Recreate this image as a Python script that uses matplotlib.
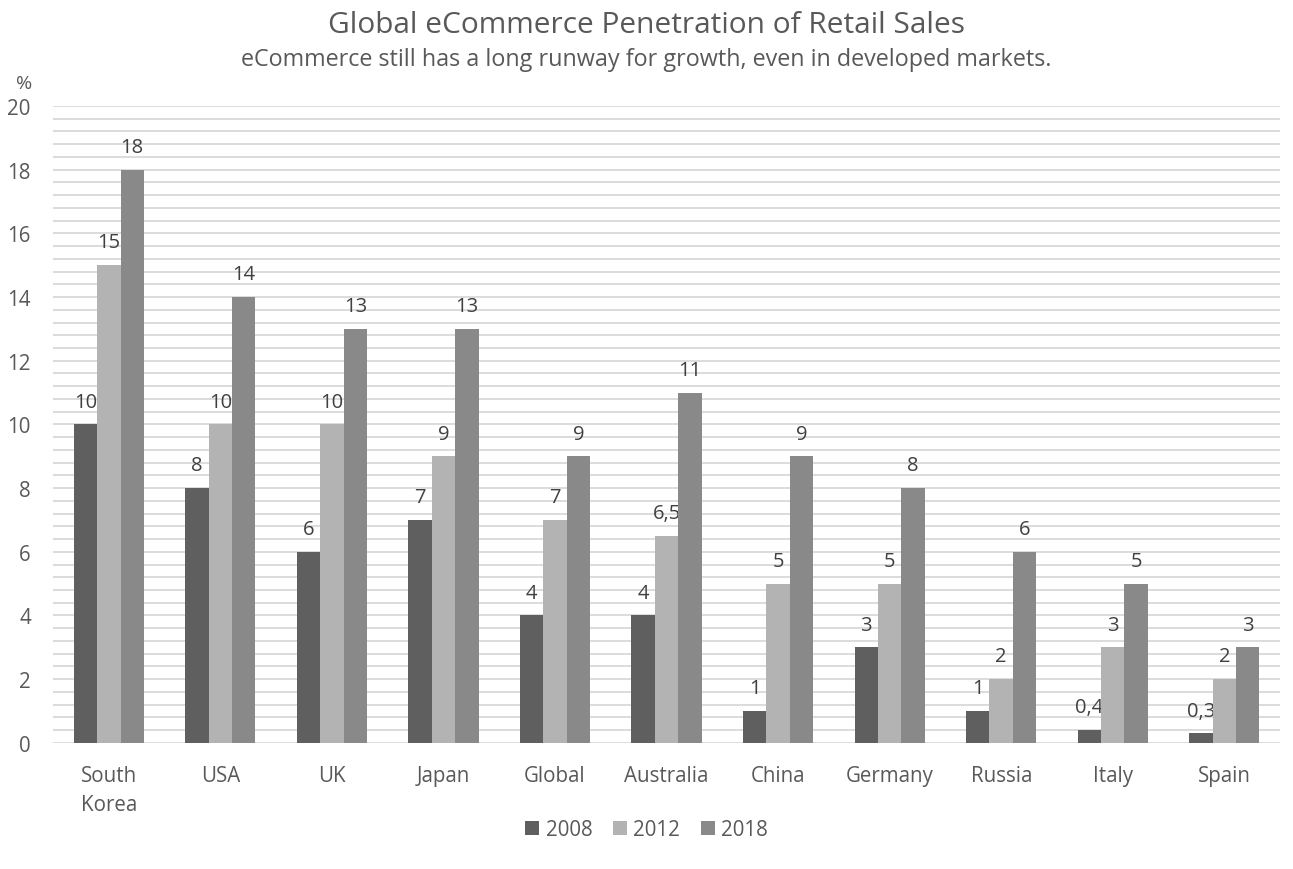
import numpy as np
import matplotlib.pyplot as plt
from matplotlib.ticker import MultipleLocator

plt.rcParams['font.family'] = ['Open Sans', 'DejaVu Sans']

countries = ["South\nKorea", "USA", "UK", "Japan", "Global", "Australia",
             "China", "Germany", "Russia", "Italy", "Spain"]
years = ["2008", "2012", "2018"]
vals_2008 = [10, 8, 6, 7, 4, 4, 1, 3, 1, 0.4, 0.3]
vals_2012 = [15, 10, 10, 9, 7, 6.5, 5, 5, 2, 3, 2]
vals_2018 = [18, 14, 13, 13, 9, 11, 9, 8, 6, 5, 3]
series = [vals_2008, vals_2012, vals_2018]
colors = ["#5f5f5f", "#b3b3b3", "#898989"]
text_color = "#595959"


def fmt(v):
    # comma decimal like the source
    return f"{v:g}".replace(".", ",")


fig = plt.figure(figsize=(12.93, 8.70), dpi=100)
ax = fig.add_axes([0.041, 0.145, 0.949, 0.732])

x = np.arange(len(countries))
width = 0.21
for i, (vals, col, yr) in enumerate(zip(series, colors, years)):
    pos = x + (i - 1) * width
    bars = ax.bar(pos, vals, width, color=col, label=yr, zorder=3)
    for b, v in zip(bars, vals):
        ax.text(b.get_x() + b.get_width() / 2, v + 0.4, fmt(v),
                ha="center", va="bottom", fontsize=14.5, color="#404040")

ax.set_xlim(-0.5, len(countries) - 0.5)
ax.set_ylim(0, 20)
ax.yaxis.set_major_locator(MultipleLocator(2))
ax.yaxis.set_minor_locator(MultipleLocator(0.4))
ax.grid(axis="y", which="both", color="#d9d9d9", linewidth=1.3, zorder=0)
ax.set_axisbelow(True)
for s in ax.spines.values():
    s.set_visible(False)
ax.tick_params(axis="both", which="both", length=0, labelsize=14.8,
               colors=text_color)
ax.tick_params(axis="y", pad=16)
ax.tick_params(axis="x", pad=16)
ax.set_xticks(x)
ax.set_xticklabels(countries, ha="center", linespacing=1.5)

fig.text(0.5, 0.962, "Global eCommerce Penetration of Retail Sales",
         ha="center", va="baseline", fontsize=21.5, color=text_color)
fig.text(0.5, 0.9236, "eCommerce still has a long runway for growth, even in developed markets.",
         ha="center", va="baseline", fontsize=16.8, color=text_color)
fig.text(0.0185, 0.904, "%", ha="center", va="center", fontsize=14, color=text_color)

fig.legend(loc="center", bbox_to_anchor=(0.5, 0.045), ncol=3, frameon=False,
           fontsize=14.8, handlelength=0.7, handleheight=0.7,
           handletextpad=0.3, columnspacing=1.0, labelcolor=text_color)

plt.savefig("out.png", dpi=100)
